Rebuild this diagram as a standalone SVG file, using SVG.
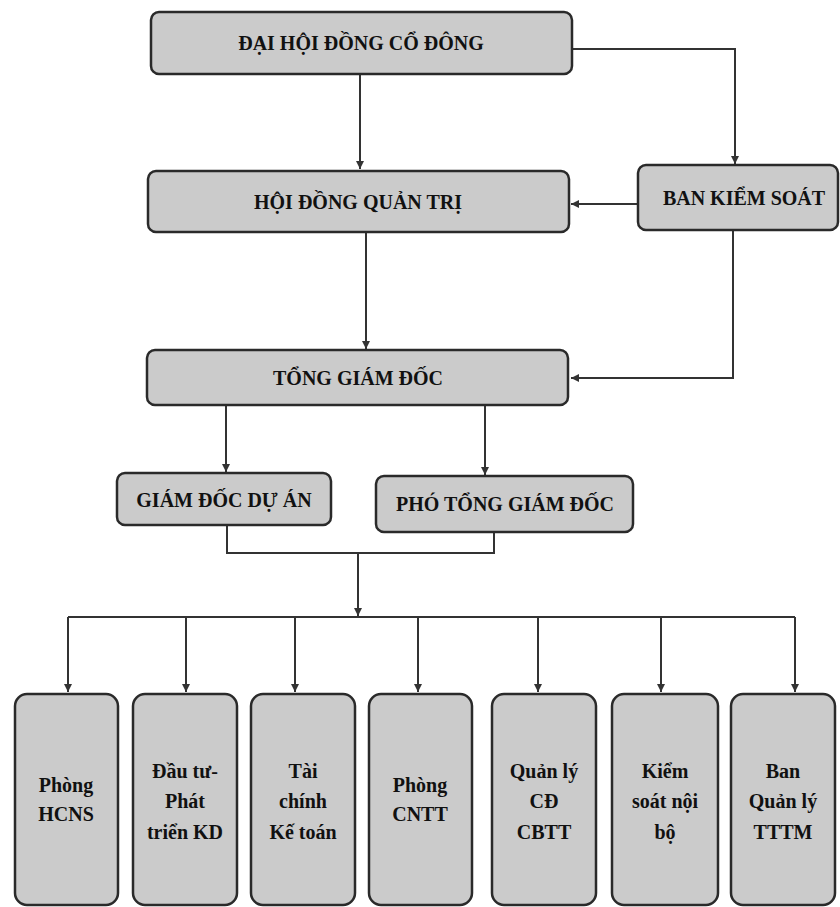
<svg xmlns="http://www.w3.org/2000/svg" width="840" height="907" viewBox="0 0 840 907">
<defs>
<style>
.box{fill:#cbcbcb;stroke:#2a2a2a;stroke-width:2.5}
.t{font-family:"Liberation Serif","Times New Roman",serif;font-weight:bold;font-size:20px;fill:#111;text-anchor:middle}
.s{font-family:"Liberation Serif","Times New Roman",serif;font-weight:bold;font-size:20px;fill:#111;text-anchor:middle}
.c{fill:none;stroke:#333;stroke-width:2}
</style>
<marker id="ah" markerWidth="8" markerHeight="8" refX="8" refY="4" orient="auto" markerUnits="userSpaceOnUse">
<path d="M0,0 L8,4 L0,8 z" fill="#333"/>
</marker>
</defs>
<rect width="840" height="907" fill="#fff"/>

<g id="connectors">
<path class="c" d="M360,74 V169" marker-end="url(#ah)"/>
<path class="c" d="M572,49 H735 V164" marker-end="url(#ah)"/>
<path class="c" d="M638,204 H571" marker-end="url(#ah)"/>
<path class="c" d="M366,232 V349" marker-end="url(#ah)"/>
<path class="c" d="M733,230 V378 H571" marker-end="url(#ah)"/>
<path class="c" d="M226,405 V472" marker-end="url(#ah)"/>
<path class="c" d="M485,405 V475" marker-end="url(#ah)"/>
<path class="c" d="M227,525 V553 H494 V532"/>
<path class="c" d="M358,553 V616" marker-end="url(#ah)"/>
<path class="c" d="M68,617 H795"/>
<path class="c" d="M68,617 V692" marker-end="url(#ah)"/>
<path class="c" d="M186,617 V692" marker-end="url(#ah)"/>
<path class="c" d="M295,617 V692" marker-end="url(#ah)"/>
<path class="c" d="M418,617 V692" marker-end="url(#ah)"/>
<path class="c" d="M538,617 V692" marker-end="url(#ah)"/>
<path class="c" d="M661,617 V692" marker-end="url(#ah)"/>
<path class="c" d="M795,617 V692" marker-end="url(#ah)"/>
</g>

<g id="dai-hoi-dong-co-dong">
<rect class="box" x="151" y="12" width="421" height="62" rx="8"/>
<text class="t" x="361" y="50">ĐẠI HỘI ĐỒNG CỔ ĐÔNG</text>
</g>
<g id="hoi-dong-quan-tri">
<rect class="box" x="148" y="171" width="421" height="61" rx="8"/>
<text class="t" x="358" y="209">HỘI ĐỒNG QUẢN TRỊ</text>
</g>
<g id="ban-kiem-soat">
<rect class="box" x="638" y="165" width="200" height="65" rx="8"/>
<text class="t" x="744" y="205">BAN KIỂM SOÁT</text>
</g>
<g id="tong-giam-doc">
<rect class="box" x="147" y="350" width="421" height="55" rx="8"/>
<text class="t" x="358" y="385">TỔNG GIÁM ĐỐC</text>
</g>
<g id="giam-doc-du-an">
<rect class="box" x="117" y="473" width="214" height="52" rx="8"/>
<text class="t" x="224" y="507">GIÁM ĐỐC DỰ ÁN</text>
</g>
<g id="pho-tong-giam-doc">
<rect class="box" x="376" y="476" width="257" height="56" rx="8"/>
<text class="t" x="505" y="511">PHÓ TỔNG GIÁM ĐỐC</text>
</g>

<g id="phong-hcns">
<rect class="box" x="15" y="694" width="103" height="211" rx="12"/>
<text class="s" x="66" y="792">Phòng</text>
<text class="s" x="66" y="821">HCNS</text>
</g>
<g id="dau-tu-phat-trien-kd">
<rect class="box" x="133" y="694" width="104" height="211" rx="12"/>
<text class="s" x="185" y="778">Đầu tư-</text>
<text class="s" x="185" y="808">Phát</text>
<text class="s" x="185" y="839">triển KD</text>
</g>
<g id="tai-chinh-ke-toan">
<rect class="box" x="251" y="694" width="104" height="211" rx="12"/>
<text class="s" x="303" y="778">Tài</text>
<text class="s" x="303" y="808">chính</text>
<text class="s" x="303" y="839">Kế toán</text>
</g>
<g id="phong-cntt">
<rect class="box" x="369" y="694" width="103" height="211" rx="12"/>
<text class="s" x="420" y="792">Phòng</text>
<text class="s" x="420" y="821">CNTT</text>
</g>
<g id="quan-ly-cd-cbtt">
<rect class="box" x="492" y="694" width="104" height="211" rx="12"/>
<text class="s" x="544" y="778">Quản lý</text>
<text class="s" x="544" y="808">CĐ</text>
<text class="s" x="544" y="839">CBTT</text>
</g>
<g id="kiem-soat-noi-bo">
<rect class="box" x="612" y="694" width="106" height="211" rx="12"/>
<text class="s" x="665" y="778">Kiểm</text>
<text class="s" x="665" y="808">soát nội</text>
<text class="s" x="665" y="839">bộ</text>
</g>
<g id="ban-quan-ly-tttm">
<rect class="box" x="731" y="694" width="104" height="211" rx="12"/>
<text class="s" x="783" y="778">Ban</text>
<text class="s" x="783" y="808">Quản lý</text>
<text class="s" x="783" y="839">TTTM</text>
</g>
</svg>
